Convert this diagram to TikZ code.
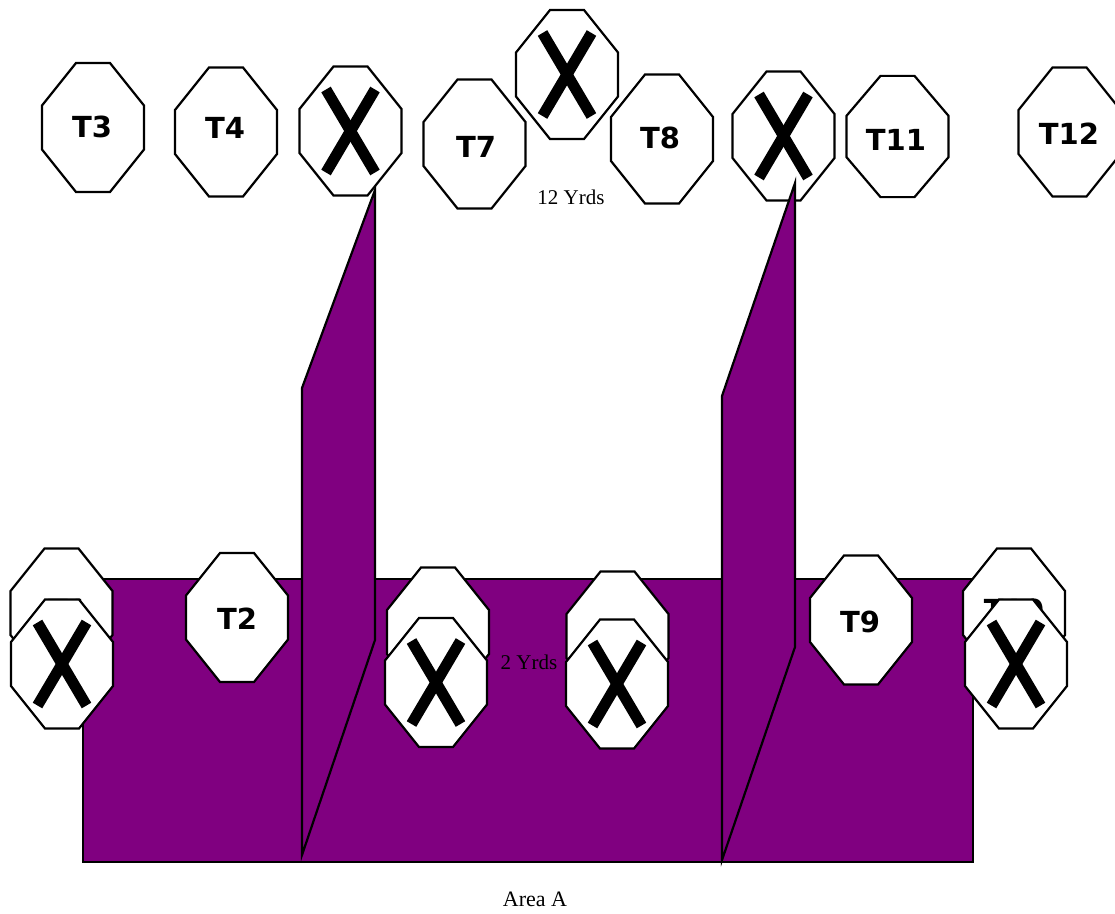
\documentclass[tikz,border=0pt]{standalone}
\usepackage{fontspec}
\setmainfont{Liberation Serif}
\newfontfamily\lbl{DejaVu Sans}
\definecolor{areapurple}{RGB}{128,0,128}
\tikzset{
  px/.style={x=1pt,y=-1pt},
  edge line/.style={draw=black,line width=2.2pt,line join=miter},
  wall/.style={edge line,fill=areapurple},
  octa/.style={edge line,fill=white},
  tag/.style={font=\lbl\bfseries\fontsize{29}{29}\selectfont,text=black,inner sep=0pt},
  caption/.style={font=\fontsize{21}{21}\selectfont,text=black,inner sep=0pt},
  cross/.style={line width=11pt,draw=black,line cap=butt},
  pics/octagon/.style={code={
    \draw[octa] (-17,-64.5) -- (17,-64.5) -- (51,-22) -- (51,22) -- (17,64.5) -- (-17,64.5) -- (-51,22) -- (-51,-22) -- cycle;
  }},
  pics/xoctagon/.style={code={
    \draw[octa] (-17,-64.5) -- (17,-64.5) -- (51,-22) -- (51,22) -- (17,64.5) -- (-17,64.5) -- (-51,22) -- (-51,-22) -- cycle;
    \draw[cross] (-24.5,-41.5) -- (24.5,41.5);
    \draw[cross] (24.5,-41.5) -- (-24.5,41.5);
  }}
}
\begin{document}
\begin{tikzpicture}[px]
\useasboundingbox (0,0) rectangle (1115,913);
% ground
\draw[wall] (83,579) rectangle (973,862);
% top row
\pic at (93,127.5) {octagon};
\node[tag] (t3) at (92,127) {T3};
\pic at (226,132) {octagon};
\node[tag] (t4) at (225,128) {T4};
\pic at (350.5,131) {xoctagon};
\pic at (474.5,144) {octagon};
\node[tag] (t7) at (476,147) {T7};
\pic at (567,74.5) {xoctagon};
\pic at (662,139) {octagon};
\node[tag] (t8) at (660,138) {T8};
\pic at (783.5,136) {xoctagon};
\pic[yscale=0.94] at (897.5,136.5) {octagon};
\node[tag] (t11) at (896,140) {T11};
\pic at (1069.5,132) {octagon};
\node[tag] (t12) at (1069,134) {T12};
\node[caption] (yds12) at (571,197) {12 Yrds};
% walls
\draw[wall] (302,388) -- (375,190) -- (375,640) -- (302,855) -- cycle;
\draw[wall] (722,396) -- (795,183) -- (795,647) -- (722,860) -- cycle;
% bottom row
\pic at (61.5,613) {octagon};
\node[tag] (t1) at (68,609.5) {T1};
\pic at (62,664) {xoctagon};
\pic at (237,617.5) {octagon};
\node[tag] (t2) at (237,619) {T2};
\node[caption] (yds2) at (529,662) {2 Yrds};
\pic at (438,632) {octagon};
\pic at (436,682.5) {xoctagon};
\pic at (617.5,636) {octagon};
\pic at (617,684) {xoctagon};
\pic at (861,620) {octagon};
\node[tag] (t9) at (860,622) {T9};
\pic at (1014,613) {octagon};
\node[tag] (t10) at (1014,610) {T10};
\pic at (1016,664) {xoctagon};
\node[font=\fontsize{22}{22}\selectfont,inner sep=0pt] (area) at (535,899) {Area A};
\end{tikzpicture}
\end{document}
